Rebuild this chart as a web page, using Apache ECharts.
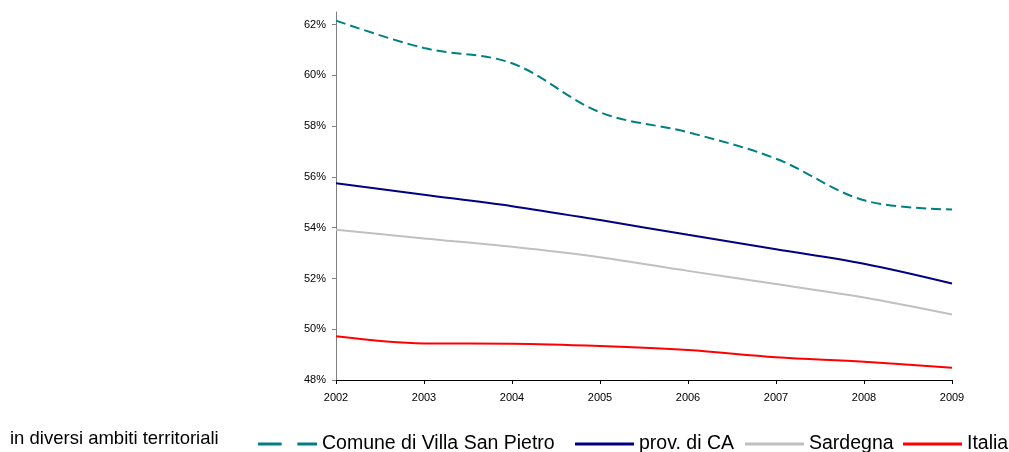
<!DOCTYPE html>
<html>
<head>
    <meta charset="utf-8">
    <title>Popolazione</title>
    <script src="https://cdn.jsdelivr.net/npm/echarts@6/dist/echarts.min.js"></script>
    <style>
        html, body { margin: 0; padding: 0; background: #fff; }
        #main { width: 1009px; height: 452px; }
    </style>
</head>
<body>
<div id="main"></div>
<script>
    // anni e valori (%)
    var years = ['2002', '2003', '2004', '2005', '2006', '2007', '2008', '2009'];
    var comune = [62.16, 61.08, 60.48, 58.55, 57.76, 56.72, 55.08, 54.72];
    var provCA = [55.75, 55.30, 54.85, 54.30, 53.72, 53.15, 52.58, 51.80];
    var sardegna = [53.92, 53.58, 53.25, 52.84, 52.30, 51.78, 51.25, 50.58];
    var italia = [49.72, 49.44, 49.43, 49.34, 49.18, 48.90, 48.72, 48.48];
    var yTicks = [48, 50, 52, 54, 56, 58, 60, 62];

    var font = 'Liberation Sans, Arial, sans-serif';
    var myChart = echarts.init(document.getElementById('main'));

    // una legenda per voce, cosi' si possono piazzare come nell'originale
    function makeLegend(name, left, icon) {
        return {
            data: [name],
            left: left,
            top: 430,
            padding: 0,
            icon: icon || 'rect',
            itemWidth: 59,
            itemHeight: 3,
            itemGap: 0,
            textStyle: { fontFamily: font, fontSize: 19.5, color: '#000', lineHeight: 22, padding: [6, 0, 0, 0] }
        };
    }

    var option = {
        animation: false,
        backgroundColor: '#fff',
        grid: { left: 336, right: 57, top: 12, bottom: 72 },
        legend: [
            makeLegend('Comune di Villa San Pietro', 258, 'path://M0,0H24V3H0Z M40,0H60V3H40Z'),
            makeLegend('prov. di CA', 575),
            makeLegend('Sardegna', 745),
            makeLegend('Italia', 903)
        ],
        graphic: [{
            type: 'text',
            left: 10,
            top: 429,
            style: { text: 'in diversi ambiti territoriali', fontFamily: font, fontSize: 18.5, fill: '#000' }
        }],
        xAxis: {
            type: 'category',
            boundaryGap: false,
            data: years,
            axisLine: { lineStyle: { color: '#000', width: 1 } },
            axisTick: { show: true, length: 4, lineStyle: { color: '#000' } },
            axisLabel: { color: '#000', fontFamily: font, fontSize: 11, margin: 12 },
            splitLine: { show: false }
        },
        yAxis: {
            type: 'value',
            min: 48,
            max: 62.5,
            interval: 2,
            axisLine: { show: true, lineStyle: { color: '#808080', width: 1 } },
            axisTick: { show: true, length: 4, lineStyle: { color: '#808080' }, customValues: yTicks },
            axisLabel: {
                color: '#000', fontFamily: font, fontSize: 11, margin: 10,
                customValues: yTicks,
                formatter: function (v) { return v + '%'; }
            },
            splitLine: { show: false }
        },
        series: [
            {
                name: 'Comune di Villa San Pietro', type: 'line', data: comune,
                smooth: 0.35, symbol: 'none', color: '#008080',
                lineStyle: { width: 2, type: [10, 5], color: '#008080' }
            },
            {
                name: 'prov. di CA', type: 'line', data: provCA,
                smooth: 0.35, symbol: 'none', color: '#000080',
                lineStyle: { width: 2, color: '#000080' }
            },
            {
                name: 'Sardegna', type: 'line', data: sardegna,
                smooth: 0.35, symbol: 'none', color: '#c0c0c0',
                lineStyle: { width: 2, color: '#c0c0c0' }
            },
            {
                name: 'Italia', type: 'line', data: italia,
                smooth: 0.35, symbol: 'none', color: '#ff0000',
                lineStyle: { width: 2, color: '#ff0000' }
            }
        ]
    };

    myChart.setOption(option);
</script>
</body>
</html>
